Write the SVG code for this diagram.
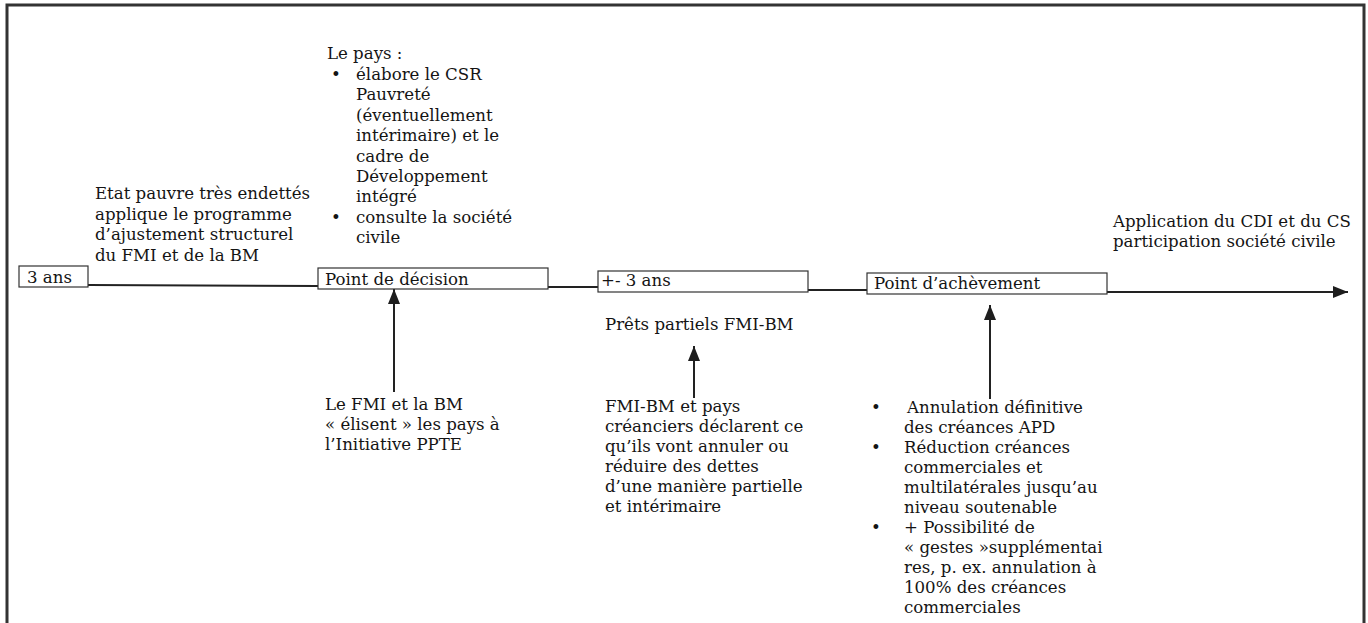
<svg xmlns="http://www.w3.org/2000/svg" width="1368" height="623" viewBox="0 0 1368 623">
<defs>
<style>
text{font-family:"DejaVu Serif","Liberation Serif",serif;font-size:16.6px;fill:#141414}
.box{fill:#fff;stroke:#333;stroke-width:1.2}
.ln{stroke:#222;stroke-width:2;fill:none}
.frame{fill:none;stroke:#333;stroke-width:3}
</style>
<marker id="ah" viewBox="0 0 15 12" refX="15" refY="6" markerWidth="15" markerHeight="12" markerUnits="userSpaceOnUse" orient="auto">
<path d="M0,0 L15,6 L0,12 z" fill="#1e1e1e"/>
</marker>
</defs>
<rect width="1368" height="623" fill="#fff"/>
<path class="frame" d="M7,640 V5 H1364 V640"/>

<g id="connectors">
<line class="ln" x1="88" y1="285" x2="318" y2="286"/>
<line class="ln" x1="548" y1="287" x2="598" y2="287"/>
<line class="ln" x1="808" y1="290" x2="867" y2="290"/>
<line class="ln" x1="1107" y1="292" x2="1348" y2="292" marker-end="url(#ah)"/>
<line class="ln" x1="394" y1="392" x2="394" y2="289" marker-end="url(#ah)"/>
<line class="ln" x1="694" y1="398" x2="694" y2="346" marker-end="url(#ah)"/>
<line class="ln" x1="990" y1="399" x2="990" y2="305" marker-end="url(#ah)"/>
</g>

<g id="box-3ans">
<rect class="box" x="19" y="266" width="69" height="21"/>
<text x="27" y="283">3 ans</text>
</g>

<g id="box-decision">
<rect class="box" x="318" y="268" width="230" height="21"/>
<text x="325" y="285">Point de décision</text>
</g>

<g id="box-3ans-b">
<rect class="box" x="598" y="271" width="210" height="21"/>
<text x="601" y="286">+- 3 ans</text>
</g>

<g id="box-achevement">
<rect class="box" x="867" y="273" width="240" height="21"/>
<text x="874" y="289">Point d’achèvement</text>
</g>

<g id="txt-etat">
<text x="95" y="199">Etat pauvre très endettés</text>
<text x="95" y="219.5">applique le programme</text>
<text x="95" y="240">d’ajustement structurel</text>
<text x="95" y="260.5">du FMI et de la BM</text>
</g>

<g id="txt-pays">
<text x="327" y="59">Le pays :</text>
<text x="331" y="79.5">•</text>
<text x="356" y="79.5">élabore le CSR</text>
<text x="356" y="100">Pauvreté</text>
<text x="356" y="120.5">(éventuellement</text>
<text x="356" y="141">intérimaire) et le</text>
<text x="356" y="161.5">cadre de</text>
<text x="356" y="182">Développement</text>
<text x="356" y="202">intégré</text>
<text x="331" y="222.5">•</text>
<text x="356" y="222.5">consulte la société</text>
<text x="356" y="243">civile</text>
</g>

<g id="txt-application">
<text x="1113" y="227">Application du CDI et du CS</text>
<text x="1113" y="247">participation société civile</text>
</g>

<g id="txt-prets">
<text x="605" y="330">Prêts partiels FMI-BM</text>
</g>

<g id="txt-elisent">
<text x="325" y="410">Le FMI et la BM</text>
<text x="325" y="430">« élisent » les pays à</text>
<text x="325" y="450">l’Initiative PPTE</text>
</g>

<g id="txt-declarent">
<text x="605" y="412">FMI-BM et pays</text>
<text x="605" y="432">créanciers déclarent ce</text>
<text x="605" y="452">qu’ils vont annuler ou</text>
<text x="605" y="472">réduire des dettes</text>
<text x="605" y="492">d’une manière partielle</text>
<text x="605" y="512">et intérimaire</text>
</g>

<g id="txt-annulation">
<text x="871" y="413">•</text>
<text x="907" y="413">Annulation définitive</text>
<text x="904" y="433">des créances APD</text>
<text x="871" y="453">•</text>
<text x="904" y="453">Réduction créances</text>
<text x="904" y="473">commerciales et</text>
<text x="904" y="493">multilatérales jusqu’au</text>
<text x="904" y="513">niveau soutenable</text>
<text x="871" y="533">•</text>
<text x="904" y="533">+ Possibilité de</text>
<text x="904" y="553">« gestes »supplémentai</text>
<text x="904" y="573">res, p. ex. annulation à</text>
<text x="904" y="593">100% des créances</text>
<text x="904" y="613">commerciales</text>
</g>
</svg>
